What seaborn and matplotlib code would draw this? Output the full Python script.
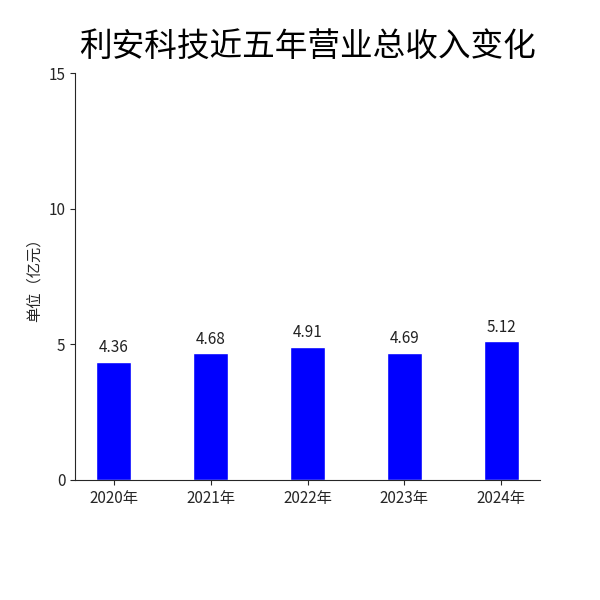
import pandas as pd
import seaborn as sns
import matplotlib.pyplot as plt

years = ["2020年", "2021年", "2022年", "2023年", "2024年"]
revenue = [4.36, 4.68, 4.91, 4.69, 5.12]
y_ticks = [0, 5, 10, 15]

sns.set_style("ticks")
plt.rcParams['font.family'] = ['Noto Sans CJK SC', 'DejaVu Sans']

df = pd.DataFrame({"year": years, "revenue": revenue})

fig = plt.figure(figsize=(6, 6), dpi=100)
ax = fig.add_axes([0.125, 0.2, 0.775, 0.678])
sns.barplot(data=df, x="year", y="revenue", color="#0000FF", saturation=1,
            width=0.36, ax=ax)

for i, v in enumerate(revenue):
    ax.text(i, v + 0.2, f"{v:.2f}", ha="center", va="bottom", fontsize=11, color="#222222")

ax.set_xlim(-0.4, 4.4)
ax.set_ylim(0, 15)
ax.set_yticks(y_ticks)
ax.set_xlabel("")
ax.set_ylabel("单位（亿元）", fontsize=11)
ax.tick_params(labelsize=11)
sns.despine(ax=ax)
fig.text(0.5125, 0.922, "利安科技近五年营业总收入变化", ha="center", va="center",
         fontsize=23.5, color="black")

fig.savefig("out.png", dpi=100)
